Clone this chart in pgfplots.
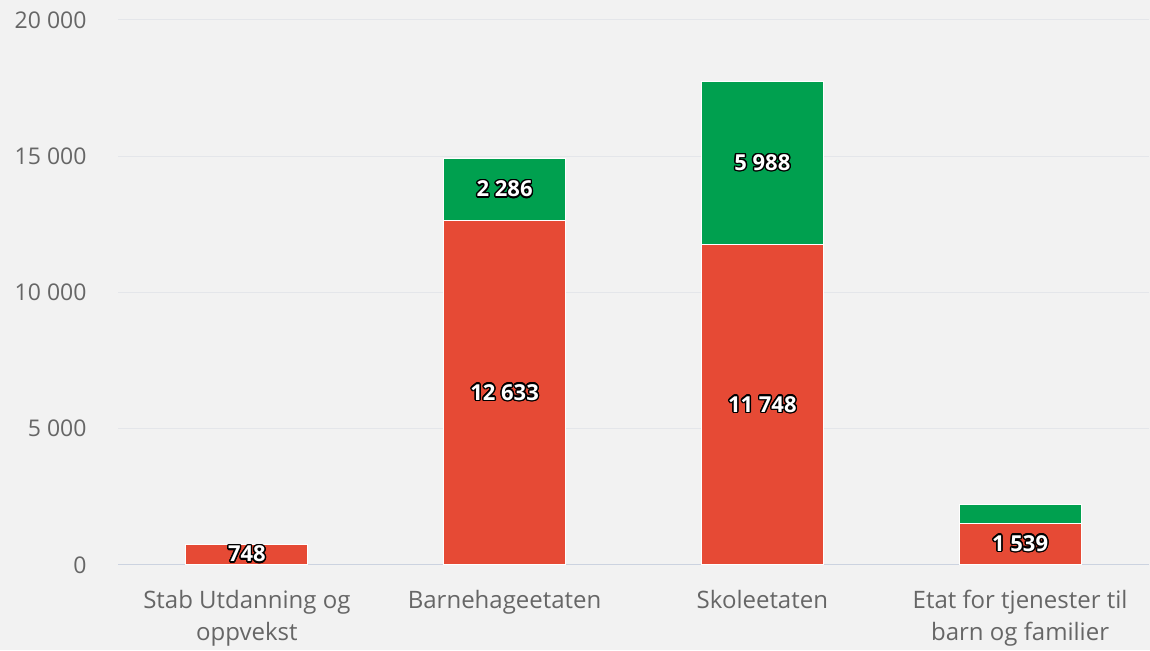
\documentclass[border=0pt]{standalone}
\usepackage{pgfplots}
\pgfplotsset{compat=1.18}
\usepackage{fontspec}
\setmainfont{Open Sans}
\newfontfamily\xlabfont{Open Sans}
\usepackage[copies]{contour}
\contourlength{1.4pt}
\definecolor{bg}{HTML}{F2F2F2}
\definecolor{gridcol}{HTML}{E4E6EA}
\definecolor{axiscol}{HTML}{CCD3E0}
\definecolor{tickcol}{HTML}{666666}
\definecolor{redbar}{HTML}{E64A35}
\definecolor{greenbar}{HTML}{00A04F}
\begin{document}
\begin{tikzpicture}
\useasboundingbox (0,0) rectangle (1150pt,650pt);
\fill[bg] (0,0) rectangle (1150pt,650pt);
\begin{axis}[
  at={(118pt,85pt)}, anchor=south west,
  scale only axis, width=1031pt, height=545pt,
  ymin=0, ymax=20000, xmin=-0.5, xmax=3.5,
  ybar stacked, bar width=0.473,
  axis x line*=bottom, axis y line*=left,
  y axis line style={draw=none},
  x axis line style={draw=axiscol, line width=1pt},
  major tick length=0pt,
  ytick={0,5000,10000,15000,20000},
  ymajorgrids, grid style={gridcol, line width=1pt},
  yticklabel style={font=\fontsize{23}{26}\selectfont, text=tickcol, xshift=-28pt,
    /pgf/number format/.cd, 1000 sep={\ }, assume math mode=true},
  scaled y ticks=false,
  xtick={0,1,2,3},
  xticklabels={{Stab Utdanning og\\oppvekst},Barnehageetaten,Skoleetaten,{Etat for tjenester til\\barn og familier}},
  xticklabel style={align=center, font=\xlabfont\fontsize{24}{32}\selectfont, text=tickcol, yshift=-22pt},
  point meta=explicit symbolic,
  nodes near coords={\contour{black}{\pgfplotspointmeta}},
  every node near coord/.append style={anchor=center, text=white,
    font=\bfseries\fontsize{22}{24}\selectfont},
]
\addplot[fill=redbar, draw=white, line width=1pt] coordinates {
  (0,748) [748] (1,12633) [12 633] (2,11748) [11 748] (3,1539) [1 539]};
\addplot[fill=greenbar, draw=white, line width=1pt] coordinates {
  (0,0) [\relax] (1,2286) [2 286] (2,5988) [5 988] (3,690) [\relax]};
\end{axis}
\end{tikzpicture}
\end{document}
